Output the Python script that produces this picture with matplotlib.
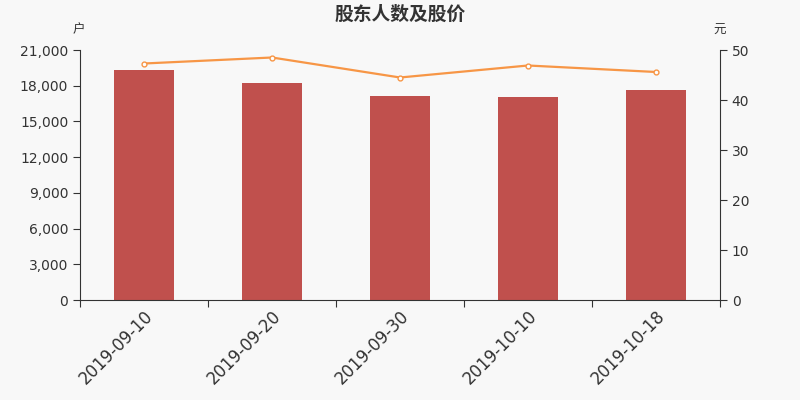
import numpy as np
import matplotlib.pyplot as plt
from matplotlib.ticker import FuncFormatter

plt.rcParams['font.family'] = ['DejaVu Sans', 'Noto Sans CJK SC']

# Daten
dates = ["2019-09-10", "2019-09-20", "2019-09-30", "2019-10-10", "2019-10-18"]
holders = [19300, 18230, 17110, 17030, 17640]
price = [47.3, 48.5, 44.5, 46.9, 45.6]

bg = "#f8f8f8"
fig = plt.figure(figsize=(8, 4), dpi=100, facecolor=bg)
ax = fig.add_axes([0.1, 0.25, 0.8, 0.625], facecolor=bg)
ax2 = ax.twinx()

x = np.arange(len(dates))
ax.bar(x, holders, width=0.47, color="#c0504d", zorder=2)
ax2.plot(x, price, color="#f79646", lw=1.6, marker="o", ms=3.5,
         mfc="white", mec="#f79646", mew=1, zorder=3)

ax.set_xlim(-0.5, len(dates) - 0.5)
ax.set_ylim(0, 21000)
ax.set_yticks(np.arange(0, 21001, 3000))
ax.yaxis.set_major_formatter(FuncFormatter(lambda v, p: f"{int(v):,}"))
ax2.set_ylim(0, 50)
ax2.set_yticks(np.arange(0, 51, 10))

# Ticks zwischen den Kategorien, Labels in der Mitte
ax.set_xticks(np.arange(-0.5, len(dates), 1))
ax.set_xticklabels([])
ax.set_xticks(x, minor=True)
ax.set_xticklabels(dates, minor=True, rotation=45, ha="right",
                   rotation_mode="anchor", fontsize=12, color="#333333")
ax.tick_params(axis="x", which="minor", length=0, pad=5)
ax.tick_params(axis="x", which="major", length=5, color="#333333")

for a in (ax, ax2):
    for s in a.spines.values():
        s.set_visible(False)
    a.tick_params(axis="y", labelsize=10, labelcolor="#333333",
                  length=5, color="#333333")
ax.spines["left"].set_visible(True)
ax.spines["bottom"].set_visible(True)
ax2.spines["right"].set_visible(True)
for s in (ax.spines["left"], ax.spines["bottom"], ax2.spines["right"]):
    s.set_color("#333333")

fig.text(0.5, 0.965, "股东人数及股价", ha="center", va="center", fontsize=13.5,
         fontweight="bold", color="#333333", family=["Noto Sans CJK SC"])
fig.text(0.099, 0.925, "户", ha="center", va="center", fontsize=9,
         color="#333333", family=["Noto Sans CJK SC"])
fig.text(0.899, 0.925, "元", ha="center", va="center", fontsize=9,
         color="#333333", family=["Noto Sans CJK SC"])

fig.savefig("out.png", facecolor=bg)
